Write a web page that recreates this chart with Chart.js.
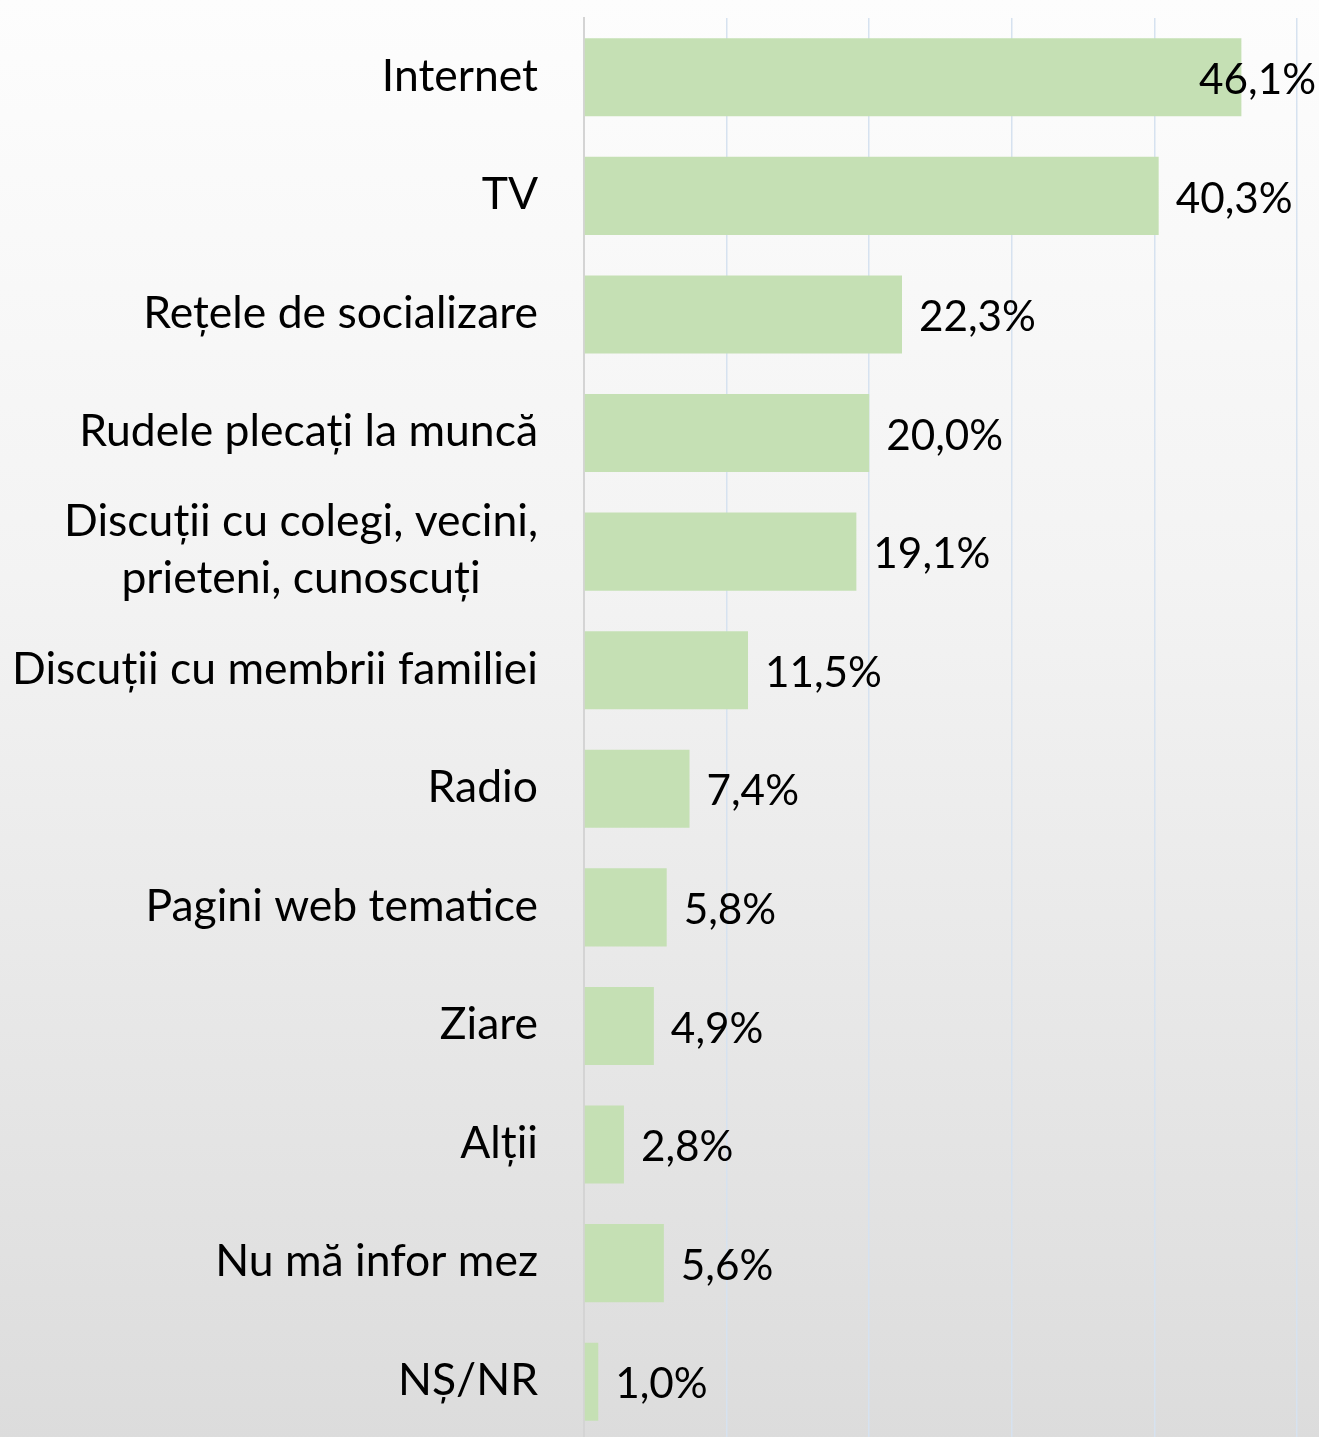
<!DOCTYPE html>
<html><head><meta charset="utf-8">
<script src="https://cdn.jsdelivr.net/npm/chart.js@4"></script>
<style>
html,body{margin:0;padding:0;overflow:hidden;background:#fff;width:1319px;height:1437px}
#wrap{width:1319px;height:1441px;position:relative;background:linear-gradient(to bottom,#fdfdfd 0%,#f3f3f3 40%,#dcdcdc 100%);}
canvas{display:block}
</style></head><body>
<div id="wrap"><canvas id="c" width="1319" height="1441"></canvas></div>
<script>
const categories = [
  ["Internet"],
  ["TV"],
  ["Rețele de socializare"],
  ["Rudele plecați la muncă"],
  ["Discuții cu colegi, vecini,", "prieteni, cunoscuți"],
  ["Discuții cu membrii familiei"],
  ["Radio"],
  ["Pagini web tematice"],
  ["Ziare"],
  ["Alții"],
  ["Nu mă infor mez"],
  ["NȘ/NR"]
];
const values = [46.1, 40.3, 22.3, 20.0, 19.1, 11.5, 7.4, 5.8, 4.9, 2.8, 5.6, 1.0];
const valueLabels = ["46,1%", "40,3%", "22,3%", "20,0%", "19,1%", "11,5%", "7,4%", "5,8%", "4,9%", "2,8%", "5,6%", "1,0%"];
const xTicks = [0, 10, 20, 30, 40, 50];

const FONT = "Lato";
const mctx = document.createElement('canvas').getContext('2d');
function fitSize(text, target) {
  mctx.font = "100px " + FONT;
  return 100 * target / mctx.measureText(text).width;
}

const labelPlugin = {
  id: 'labels',
  afterDraw(chart) {
    const ctx = chart.ctx;
    const y = chart.scales.y;
    const catSize = fitSize("Discuții cu membrii familiei", 526);
    const valSize = fitSize("40,3%", 117);
    ctx.save();
    ctx.fillStyle = "#000";
    ctx.textBaseline = "middle";
    ctx.font = catSize + "px " + FONT;
    const right = chart.chartArea.left - 46;
    categories.forEach((lines, i) => {
      const cy = y.getPixelForTick(i) - 1;
      const widths = lines.map(l => ctx.measureText(l).width);
      const maxW = Math.max(...widths);
      const lh = 57;
      const cx = right - maxW / 2;
      ctx.textAlign = "center";
      lines.forEach((l, k) => {
        const ly = cy + (k - (lines.length - 1) / 2) * lh;
        ctx.fillText(l, cx, ly);
      });
    });
    ctx.font = valSize + "px " + FONT;
    ctx.textAlign = "left";
    const meta = chart.getDatasetMeta(0);
    meta.data.forEach((bar, i) => {
      const t = valueLabels[i];
      const w = ctx.measureText(t).width;
      let x = bar.x + 17;
      if (x + w > chart.width - 3) x = chart.width - 3 - w;
      ctx.fillText(t, x, bar.y + 3);
    });
    ctx.restore();
  }
};

new Chart(document.getElementById('c'), {
  type: 'bar',
  data: {
    labels: categories,
    datasets: [{
      data: values,
      backgroundColor: '#c5e0b4',
      borderWidth: 0,
      barPercentage: 0.658,
      categoryPercentage: 1
    }]
  },
  options: {
    indexAxis: 'y',
    responsive: false,
    devicePixelRatio: 1,
    animation: false,
    layout: { padding: { top: 18, right: 22, bottom: 0, left: 0 } },
    plugins: { legend: { display: false }, tooltip: { enabled: false } },
    scales: {
      x: {
        min: 0, max: 50,
        afterBuildTicks(scale) { scale.ticks = xTicks.map(v => ({ value: v })); },
        ticks: { display: false },
        grid: {
          drawTicks: false,
          color: ctx => ctx.tick && ctx.tick.value === 0 ? 'rgba(0,0,0,0)' : '#d6e2f0',
          lineWidth: 1.5
        },
        border: { display: false },
        afterFit(scale) { scale.height = 0; }
      },
      y: {
        ticks: { display: false },
        grid: { display: false, drawTicks: false },
        border: { display: true, color: '#d4d4d4', width: 2 },
        afterFit(scale) { scale.width = 584; }
      }
    }
  },
  plugins: [labelPlugin]
});
</script>
</body></html>
